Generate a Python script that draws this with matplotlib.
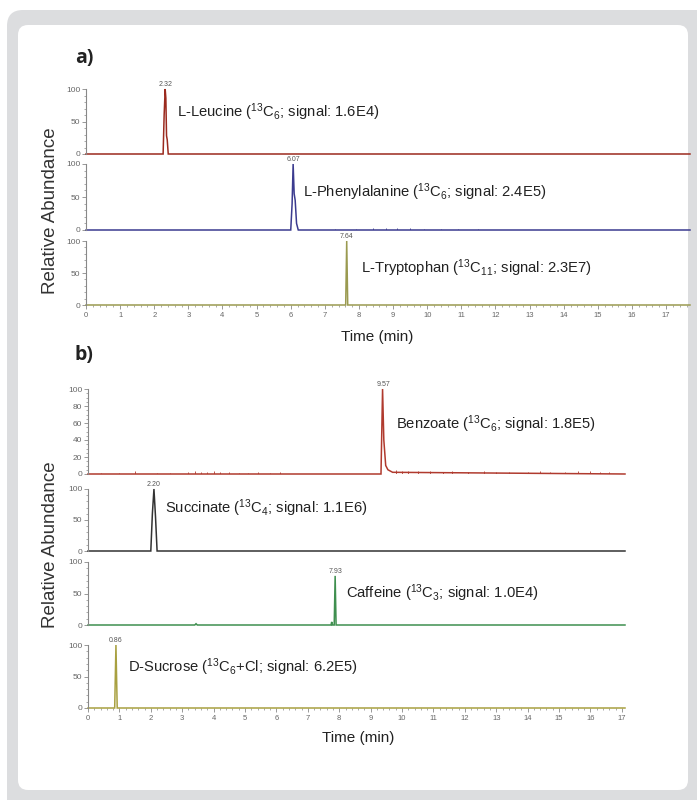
import numpy as np
import matplotlib.pyplot as plt
from matplotlib.patches import FancyBboxPatch
from matplotlib.ticker import MultipleLocator

plt.rcParams['font.family'] = ['Liberation Sans', 'DejaVu Sans']
plt.rcParams['mathtext.fontset'] = 'custom'
plt.rcParams['mathtext.rm'] = 'Liberation Sans'
plt.rcParams['mathtext.it'] = 'Liberation Sans:italic'
plt.rcParams['mathtext.bf'] = 'Liberation Sans:bold'

# ---- panel a) chromatograms (time in min, relative abundance in %) ----
leu_t = [0, 2.26, 2.29, 2.32, 2.34, 2.36, 2.38, 2.41, 17.7]
leu_y = [0, 0, 60, 100, 86, 28, 22, 0, 0]
phe_t = [0, 6.00, 6.04, 6.07, 6.10, 6.13, 6.17, 6.22, 17.7]
phe_y = [0, 0, 40, 100, 55, 45, 10, 0, 0]
phe_noise_t = [7.3, 7.9, 8.4, 8.8, 9.1, 9.5, 9.9, 10.4, 10.9, 11.5]
phe_noise_y = [2, 1.5, 2.5, 3, 3, 2.5, 2, 2, 1.5, 1.5]
trp_t = [0, 7.61, 7.64, 7.67, 17.7]
trp_y = [0, 0, 100, 0, 0]

# ---- panel b) ----
benz_t = [0, 9.33, 9.38, 9.42, 9.48, 9.55, 9.70, 17.1]
benz_y = [0, 0, 100, 40, 10, 5, 2, 0]
benz_noise_t = [0.4, 1.0, 1.5, 2.2, 2.6, 3.2, 3.4, 3.6, 3.8, 4.0, 4.2, 4.5, 4.8, 5.1, 5.4,
                5.8, 6.1, 9.8, 10.0, 10.2, 10.5, 10.9, 11.3, 11.6, 12.1, 12.6, 13.0,
                13.4, 14.0, 14.4, 14.7, 15.2, 15.6, 16.0, 16.3, 16.6]
benz_noise_y = [1, 1.5, 4, 1, 1.5, 2, 3, 2.5, 2, 3, 2, 2, 1.5, 1.5, 2,
                1.5, 2, 5, 4, 4, 3, 3, 2, 3, 2, 3, 2,
                2, 2, 3, 2, 2, 3, 3, 2, 2]
suc_t = [0, 2.00, 2.05, 2.10, 2.15, 2.20, 17.1]
suc_y = [0, 0, 60, 100, 55, 0, 0]
caf_t = [0, 3.40, 3.44, 3.48, 7.74, 7.76, 7.78, 7.84, 7.87, 7.90, 17.1]
caf_y = [0, 0, 2, 0, 0, 5, 0, 0, 78, 0, 0]
sucr_t = [0, 0.85, 0.89, 0.93, 17.1]
sucr_y = [0, 0, 100, 0, 0]

W, H = 697, 800
fig = plt.figure(figsize=(W / 100, H / 100), dpi=100)
fig.patch.set_facecolor('white')

# rounded grey frame
bg = fig.add_axes([0, 0, 1, 1], zorder=-5)
bg.set_xlim(0, W)
bg.set_ylim(H, 0)
bg.axis('off')
bg.add_patch(FancyBboxPatch((7, 10), W + 20, H + 20, boxstyle='round,pad=0,rounding_size=16',
                            fc='#dcdddf', ec='none'))
bg.add_patch(FancyBboxPatch((18, 25), 670, 765, boxstyle='round,pad=0,rounding_size=10',
                            fc='white', ec='none'))


def make_ax(left, right, top, bottom, xmax, ymajor, yminor, bottom_axis):
    ax = fig.add_axes([left / W, 1 - bottom / H, (right - left) / W, (bottom - top) / H])
    ax.set_xlim(0, xmax)
    ax.set_ylim(0, 100)
    ax.patch.set_alpha(0)
    for s in ['top', 'right', 'bottom']:
        ax.spines[s].set_visible(False)
    ax.spines['left'].set_color('#888888')
    ax.spines['left'].set_linewidth(0.8)
    ax.yaxis.set_major_locator(MultipleLocator(ymajor))
    ax.yaxis.set_minor_locator(MultipleLocator(yminor))
    ax.tick_params(axis='y', which='major', length=3, width=0.6, color='#888888',
                   labelsize=6, labelcolor='#666666', pad=1)
    ax.tick_params(axis='y', which='minor', length=1.5, width=0.5, color='#888888')
    if bottom_axis:
        ax.xaxis.set_major_locator(MultipleLocator(1))
        ax.xaxis.set_minor_locator(MultipleLocator(0.2))
        ax.set_xticks(range(0, 18))
        ax.tick_params(axis='x', which='major', length=3, width=0.6, color='#888888',
                       labelsize=5.5, labelcolor='#666666', pad=2)
        ax.tick_params(axis='x', which='minor', length=1.5, width=0.5, color='#888888')
    else:
        ax.set_xticks([])
    return ax


def trace(ax, t, y, color, peak_x, peak_lbl, name_x, name_y, name):
    ax.plot(t, y, color=color, lw=1.1, clip_on=False, solid_joinstyle='miter')
    ax.text(peak_x, 101, peak_lbl, ha='center', va='bottom', fontsize=5,
            color='#555555', clip_on=False)
    ax.text(name_x, name_y, name, ha='left', va='center', fontsize=10.6, color='#222222')


# panel a
axa1 = make_ax(86, 690, 89, 154, 17.7, 50, 10, False)
trace(axa1, leu_t, leu_y, '#9b2a1e', 2.32, '2.32', 2.67, 65,
      r'L-Leucine ($\mathregular{^{13}}$C$\mathregular{_6}$; signal: 1.6E4)')
axa2 = make_ax(86, 690, 164, 230, 17.7, 50, 10, False)
axa2.vlines(phe_noise_t, 0, phe_noise_y, color='#3b3b8f', lw=0.6)
trace(axa2, phe_t, phe_y, '#3b3b8f', 6.07, '6.07', 6.36, 58,
      r'L-Phenylalanine ($\mathregular{^{13}}$C$\mathregular{_6}$; signal: 2.4E5)')
axa3 = make_ax(86, 690, 241, 305, 17.7, 50, 10, True)
trace(axa3, trp_t, trp_y, '#9a9a50', 7.64, '7.64', 8.06, 58,
      r'L-Tryptophan ($\mathregular{^{13}}$C$\mathregular{_{11}}$; signal: 2.3E7)')

# panel b
axb1 = make_ax(88, 625, 389, 474, 17.1, 20, 5, False)
axb1.vlines(benz_noise_t, 0, benz_noise_y, color='#b03a2e', lw=0.6)
trace(axb1, benz_t, benz_y, '#b03a2e', 9.4, '9.57', 9.8, 59,
      r'Benzoate ($\mathregular{^{13}}$C$\mathregular{_6}$; signal: 1.8E5)')
axb2 = make_ax(88, 625, 489, 551, 17.1, 50, 10, False)
trace(axb2, suc_t, suc_y, '#333333', 2.1, '2.20', 2.45, 69,
      r'Succinate ($\mathregular{^{13}}$C$\mathregular{_4}$; signal: 1.1E6)')
axb3 = make_ax(88, 625, 562, 625, 17.1, 50, 10, False)
trace(axb3, caf_t, caf_y, '#3f8f4f', 7.87, '7.93', 8.2, 51,
      r'Caffeine ($\mathregular{^{13}}$C$\mathregular{_3}$; signal: 1.0E4)')
axb3.texts[0].set_y(79)
axb4 = make_ax(88, 625, 645, 708, 17.1, 50, 10, True)
trace(axb4, sucr_t, sucr_y, '#a8a040', 0.89, '0.86', 1.27, 65,
      r'D-Sucrose ($\mathregular{^{13}}$C$\mathregular{_6}$+Cl; signal: 6.2E5)')

# panel letters and axis titles
fig.text(75 / W, 1 - 58 / H, 'a)', fontsize=14, fontweight='bold', family='Open Sans',
         color='#222222', ha='left', va='center')
fig.text(75 / W, 1 - 355 / H, 'b)', fontsize=14, fontweight='bold', family='Open Sans',
         color='#222222', ha='left', va='center')
fig.text(51 / W, 1 - 211 / H, 'Relative Abundance', rotation=90, fontsize=13.5,
         color='#333333', ha='center', va='center')
fig.text(51 / W, 1 - 545 / H, 'Relative Abundance', rotation=90, fontsize=13.5,
         color='#333333', ha='center', va='center')
fig.text(377 / W, 1 - 337 / H, 'Time (min)', fontsize=11, color='#222222',
         ha='center', va='center')
fig.text(358 / W, 1 - 738 / H, 'Time (min)', fontsize=11, color='#222222',
         ha='center', va='center')

fig.savefig('out.png', dpi=100)
